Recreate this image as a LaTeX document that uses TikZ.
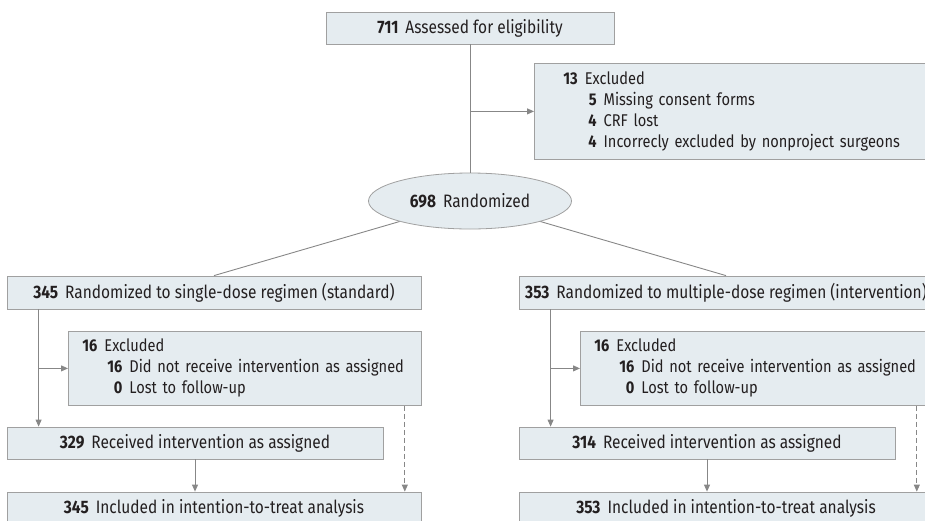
\documentclass[tikz,border=0pt]{standalone}
\usepackage{fontspec}
\setmainfont[FakeStretch=0.86]{Fira Sans}
\usepackage{tikz}
\usetikzlibrary{positioning}
\usetikzlibrary{calc}
\usetikzlibrary{shapes.geometric,arrows.meta}
\definecolor{boxfill}{RGB}{229,236,240}
\definecolor{boxline}{RGB}{160,160,160}
\definecolor{linkgray}{RGB}{135,135,135}
\definecolor{txtdark}{RGB}{35,31,32}
\tikzstyle{link}=
[draw=linkgray,line width=0.9pt]
\tikzstyle{arrow}=
[link,-{Triangle[length=7pt,width=6pt]}]
\tikzstyle{box}=
[rectangle,draw=boxline,fill=boxfill,line width=0.8pt,
inner sep=0pt,minimum height=32pt,text=txtdark,
font=\fontsize{18}{21}\selectfont]
\tikzstyle{exbox}=
[box,anchor=north west,align=left,inner ysep=0pt,
font=\fontsize{17}{21}\selectfont]
\newcommand{\cnt}[1]{\textbf{#1}\hspace{7pt}}
\newenvironment{exlist}
{\begin{tabular}{@{\hspace{25pt}}r@{\hspace{7pt}}l@{}}}
{\end{tabular}}

\begin{document}
\begin{tikzpicture}[x=1pt,y=-1pt]
\useasboundingbox (0,0) rectangle (925,520);
\clip (0,0) rectangle (925,520);
\node (elig)
[box,
minimum width=288pt]
at (470,28)
{\cnt{711}Assessed for eligibility};
\node (excl)
[exbox,
inner xsep=29pt,
text width=342pt,
minimum height=96pt]
at (534,63)
{\begin{exlist}
\multicolumn{2}{@{}l@{}}{\cnt{13}Excluded}\\
\textbf{5} & Missing consent forms\\
\textbf{4} & CRF lost\\
\textbf{4} & Incorrecly excluded by nonproject surgeons
\end{exlist}};
\node (rand)
[box,
ellipse,
minimum width=203pt,
minimum height=56pt]
at (470,201)
{\cnt{698}Randomized};
\draw[link](elig)--(rand);
\draw[arrow](elig.south |- excl.west)--(excl.west);
% single-dose arm
\node (armA)
[box,
minimum width=414pt,
minimum height=33pt]
at (214,292.5)
{\cnt{345}Randomized to single-dose regimen (standard)};
\node (exA)
[exbox,
inner xsep=14pt,
text width=325pt,
minimum height=74pt]
at (68,331)
{\begin{exlist}
\multicolumn{2}{@{}l@{}}{\cnt{16}Excluded}\\
\textbf{16} & Did not receive intervention as assigned\\
\textbf{0} & Lost to follow-up
\end{exlist}};
\node (recA)
[box,
minimum width=376pt]
at (195,443)
{\cnt{329}Received intervention as assigned};
\node (ittA)
[box,
minimum width=414pt,
minimum height=33pt]
at (214,508.5)
{\cnt{345}Included in intention-to-treat analysis};
\draw[link](rand)--(armA.north);
\coordinate (downA) at ($(armA.south west)+(32,0)$);
\draw[arrow](downA)--(downA |- recA.north);
\draw[arrow](downA |- exA.west)--(exA.west);
\draw[arrow](recA.south)--(recA.south |- ittA.north);
\coordinate (dashA) at ($(exA.south east)+(-17,0)$);
\draw[arrow,dash pattern=on 5pt off 3pt](dashA)--(dashA |- ittA.north);
% multiple-dose arm
\node (armB)
[box,
minimum width=414pt,
minimum height=33pt]
at (726,292.5)
{\cnt{353}Randomized to multiple-dose regimen (intervention)};
\node (exB)
[exbox,
inner xsep=14pt,
text width=325pt,
minimum height=74pt]
at (580,331)
{\begin{exlist}
\multicolumn{2}{@{}l@{}}{\cnt{16}Excluded}\\
\textbf{16} & Did not receive intervention as assigned\\
\textbf{0} & Lost to follow-up
\end{exlist}};
\node (recB)
[box,
minimum width=376pt]
at (707,443)
{\cnt{314}Received intervention as assigned};
\node (ittB)
[box,
minimum width=414pt,
minimum height=33pt]
at (726,508.5)
{\cnt{353}Included in intention-to-treat analysis};
\draw[link](rand)--(armB.north);
\coordinate (downB) at ($(armB.south west)+(32,0)$);
\draw[arrow](downB)--(downB |- recB.north);
\draw[arrow](downB |- exB.west)--(exB.west);
\draw[arrow](recB.south)--(recB.south |- ittB.north);
\coordinate (dashB) at ($(exB.south east)+(-17,0)$);
\draw[arrow,dash pattern=on 5pt off 3pt](dashB)--(dashB |- ittB.north);
\end{tikzpicture}
\end{document}
